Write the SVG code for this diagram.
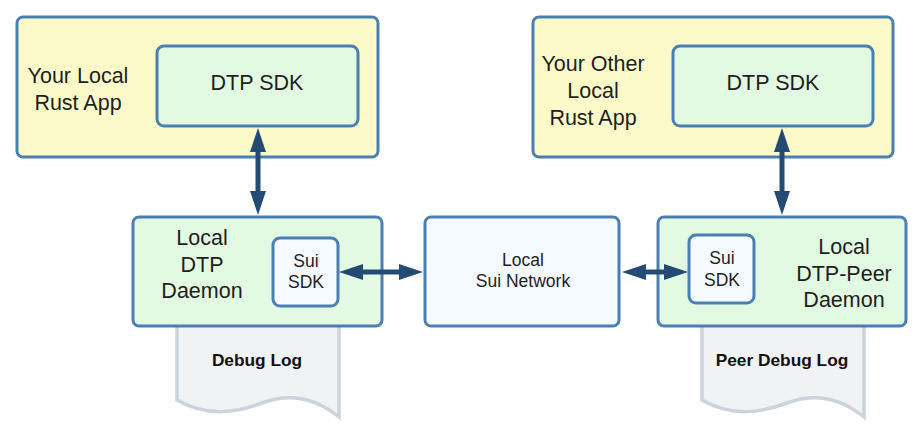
<svg xmlns="http://www.w3.org/2000/svg" width="920" height="438" viewBox="0 0 920 438">
<defs>
<style>
.box{stroke:#4b7fb4;stroke-width:3}
.app{fill:#fcfac9}
.sdk{fill:#e2f9e2}
.net{fill:#f5faff}
.doc{fill:#f1f2f4;stroke:#cdd3db;stroke-width:3.5}
.t{font-family:"Liberation Sans",Arial,sans-serif;fill:#1e1e1e;text-anchor:middle}
.big{font-size:21.5px}
.mid{font-size:17.5px}
.bold{font-size:17.3px;font-weight:bold;fill:#111}
.conn{stroke:#234b73;stroke-width:5;fill:none;marker-start:url(#ah);marker-end:url(#ah)}
</style>
<marker id="ah" viewBox="0 0 24 16" refX="6" refY="8" markerWidth="24" markerHeight="16" markerUnits="userSpaceOnUse" orient="auto-start-reverse">
<path d="M0,0 L24,8 L0,16 z" fill="#234b73"/>
</marker>
</defs>
<rect width="920" height="438" fill="#ffffff"/>

<g id="debug-log">
<path class="doc" d="M177,318 V400 C208,418 238,412 262,403 C286,394 312,395 339,417 V318 Z"/>
<text class="t bold" x="257" y="366">Debug Log</text>
</g>
<g id="peer-debug-log">
<path class="doc" d="M702,318 V400 C733,418 763,412 787,403 C811,394 837,395 864,417 V318 Z"/>
<text class="t bold" x="782" y="366">Peer Debug Log</text>
</g>

<g id="local-rust-app">
<rect class="box app" x="17" y="17" width="361" height="140" rx="6"/>
<text class="t big" x="78" y="83">Your Local</text>
<text class="t big" x="78" y="110">Rust App</text>
</g>
<g id="dtp-sdk-1">
<rect class="box sdk" x="157" y="46" width="201" height="80" rx="7"/>
<text class="t big" x="257" y="90">DTP SDK</text>
</g>

<g id="other-rust-app">
<rect class="box app" x="533" y="17" width="360" height="140" rx="6"/>
<text class="t big" x="593" y="71">Your Other</text>
<text class="t big" x="593" y="98">Local</text>
<text class="t big" x="593" y="125">Rust App</text>
</g>
<g id="dtp-sdk-2">
<rect class="box sdk" x="673" y="46" width="200" height="80" rx="7"/>
<text class="t big" x="773" y="90">DTP SDK</text>
</g>

<g id="local-dtp-daemon">
<rect class="box sdk" x="133" y="217" width="249" height="109" rx="6"/>
<text class="t big" x="202" y="245">Local</text>
<text class="t big" x="202" y="272">DTP</text>
<text class="t big" x="202" y="298">Daemon</text>
</g>
<g id="sui-sdk-1">
<rect class="box net" x="273" y="238" width="65" height="68" rx="7"/>
<text class="t mid" x="306" y="267">Sui</text>
<text class="t mid" x="306" y="288">SDK</text>
</g>

<g id="local-sui-network">
<rect class="box net" x="425" y="217" width="194" height="109" rx="6"/>
<text class="t mid" x="523" y="266">Local</text>
<text class="t mid" x="523" y="287">Sui Network</text>
</g>

<g id="local-dtp-peer-daemon">
<rect class="box sdk" x="658" y="217" width="248" height="109" rx="6"/>
<text class="t big" x="844" y="254">Local</text>
<text class="t big" x="844" y="281">DTP-Peer</text>
<text class="t big" x="844" y="307">Daemon</text>
</g>
<g id="sui-sdk-2">
<rect class="box net" x="689" y="235" width="65" height="68" rx="7"/>
<text class="t mid" x="722" y="264">Sui</text>
<text class="t mid" x="722" y="286">SDK</text>
</g>

<g id="connectors">
<line class="conn" x1="258" y1="146" x2="258" y2="197"/>
<line class="conn" x1="782" y1="146" x2="782" y2="197"/>
<line class="conn" x1="357" y1="272" x2="405" y2="272"/>
<line class="conn" x1="640" y1="272" x2="670" y2="272"/>
</g>
</svg>
